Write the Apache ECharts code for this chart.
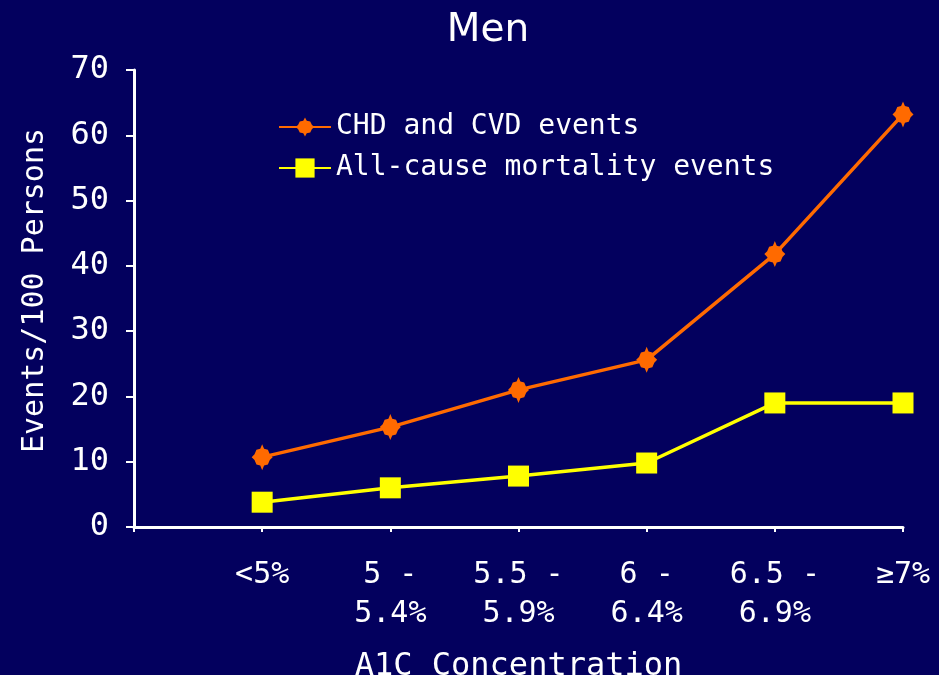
<!DOCTYPE html>
<html>
<head>
<meta charset="utf-8">
<script src="https://cdn.jsdelivr.net/npm/echarts@6/dist/echarts.min.js"></script>
<style>
  html, body { margin: 0; padding: 0; background: #03005e; }
  #chart { width: 939px; height: 675px; }
</style>
</head>
<body>
<div id="chart"></div>
<script>
// A1C concentration bands (positions 1..6 on the x scale)
const categories = ['<5%', '5 -\n5.4%', '5.5 -\n5.9%', '6 -\n6.4%', '6.5 -\n6.9%', '\u22657%'];
// Events per 100 persons
const chdCvdEvents = [10.7, 15.3, 21.0, 25.6, 41.8, 63.2];
const allCauseMortality = [3.8, 6.0, 7.8, 9.8, 19.0, 19.0];
const yTicks = [0, 10, 20, 30, 40, 50, 60, 70];

const MONO = '"DejaVu Sans Mono", "Liberation Mono", monospace';
const SANS = '"DejaVu Sans", Verdana, sans-serif';
// Rounded body with four short spikes
const starPath = 'path://M0,-14 L2,-9 L6,-8 L8,-3 L11,0 L8,3 L6,8 L2,9 L0,14 L-2,9 L-6,8 L-8,3 L-11,0 L-8,-3 L-6,-8 L-2,-9 Z';

const toPoints = vals => vals.map((v, i) => [i + 1, v]);

const chart = echarts.init(document.getElementById('chart'), null, { renderer: 'canvas' });
chart.setOption({
  backgroundColor: '#03005e',
  animation: false,
  title: {
    text: 'Men',
    left: 483,
    top: 6,
    textAlign: 'center',
    textStyle: { color: '#ffffff', fontFamily: SANS, fontSize: 39, fontWeight: 'normal' }
  },
  legend: {
    orient: 'vertical',
    left: 273,
    top: 108,
    itemWidth: 52,
    itemHeight: 24,
    itemGap: 13,
    textStyle: { color: '#ffffff', fontFamily: MONO, fontSize: 28 },
    data: ['CHD and CVD events', 'All-cause mortality events']
  },
  grid: { left: 134, right: 36, top: 70, bottom: 148, containLabel: false, outerBoundsMode: 'none' },
  xAxis: {
    type: 'value',
    min: 0,
    max: 6,
    interval: 1,
    name: 'A1C Concentration',
    nameLocation: 'middle',
    nameGap: 124,
    nameTextStyle: { color: '#ffffff', fontFamily: MONO, fontSize: 32 },
    axisLine: { lineStyle: { color: '#ffffff', width: 3 } },
    axisTick: { show: true, length: 5, lineStyle: { color: '#ffffff', width: 2 } },
    splitLine: { show: false },
    axisLabel: {
      color: '#ffffff',
      fontFamily: MONO,
      fontSize: 30,
      lineHeight: 39,
      margin: 29,
      formatter: v => (v >= 1 && v <= categories.length ? categories[v - 1] : '')
    }
  },
  yAxis: {
    type: 'value',
    min: yTicks[0],
    max: yTicks[yTicks.length - 1],
    interval: 10,
    name: 'Events/100 Persons',
    nameLocation: 'middle',
    nameGap: 84,
    nameRotate: 90,
    nameTextStyle: { color: '#ffffff', fontFamily: MONO, fontSize: 30, padding: [0, 0, 0, 16] },
    axisLine: { show: true, lineStyle: { color: '#ffffff', width: 3 } },
    axisTick: { show: true, length: 8, lineStyle: { color: '#ffffff', width: 2 } },
    splitLine: { show: false },
    axisLabel: { color: '#ffffff', fontFamily: MONO, fontSize: 32, margin: 25 }
  },
  series: [
    {
      name: 'CHD and CVD events',
      type: 'line',
      data: toPoints(chdCvdEvents),
      symbol: starPath,
      symbolSize: [21, 26],
      lineStyle: { color: '#ff6a00', width: 3.5 },
      itemStyle: { color: '#ff6a00' }
    },
    {
      name: 'All-cause mortality events',
      type: 'line',
      data: toPoints(allCauseMortality),
      symbol: 'rect',
      symbolSize: 21,
      lineStyle: { color: '#ffff00', width: 3.5 },
      itemStyle: { color: '#ffff00' }
    }
  ]
});
</script>
</body>
</html>
